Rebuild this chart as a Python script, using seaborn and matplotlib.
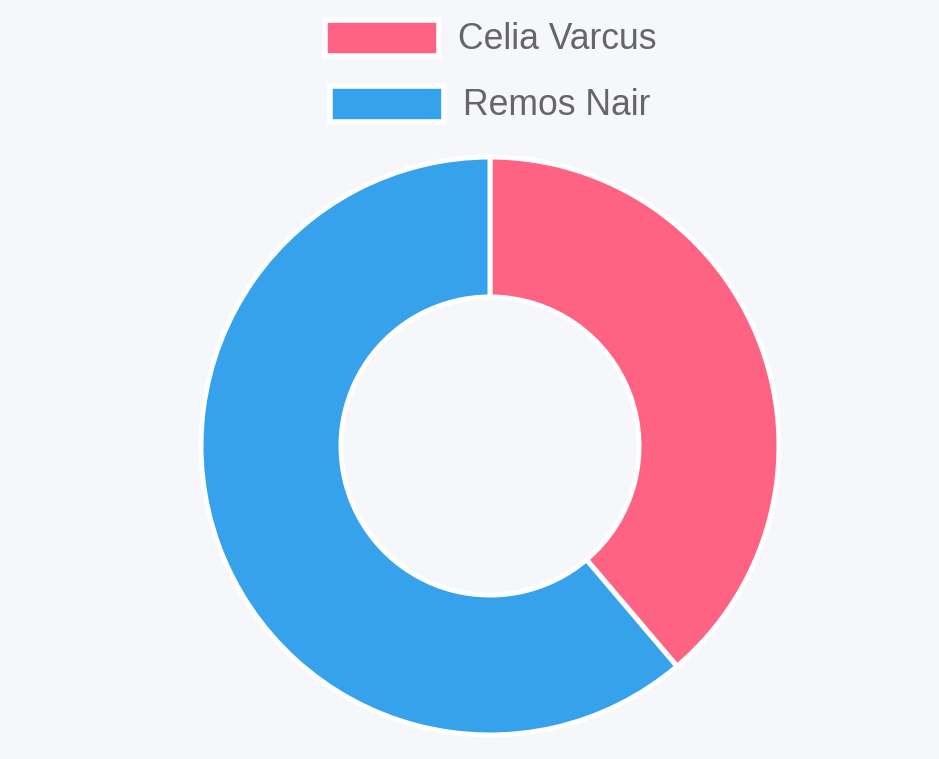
import matplotlib
matplotlib.use("Agg")
import matplotlib.pyplot as plt
import matplotlib.patches as mpatches
import seaborn as sns

# donut data
names = ["Celia Varcus", "Remos Nair"]
shares = [38.8, 61.2]
colors = ["#FF6384", "#36A2EB"]

bg = "#F5F7FB"
sns.set_theme(style="white", rc={"axes.facecolor": bg, "figure.facecolor": bg})
plt.rcParams["font.family"] = ["Liberation Sans", "DejaVu Sans"]

W, H = 939, 759
fig = plt.figure(figsize=(W / 100, H / 100), dpi=100)
ax = fig.add_axes([0, 0, 1, 1])

# ax spans the whole figure, 1 data unit = 1 pixel (y up)
ax.pie(shares, colors=colors, startangle=90, counterclock=False,
       center=(490, H - 446), radius=289, frame=True,
       wedgeprops={"width": 140, "edgecolor": "white", "linewidth": 3.6})
ax.set_xlim(0, W)
ax.set_ylim(0, H)
ax.set_aspect("equal")
ax.axis("off")

# legend, each row centred on its own like the chart.js one
renderer = fig.canvas.get_renderer()
box_w, box_h, gap = 120, 36, 16
row_y = [38, 104]
for name, col, y in zip(names, colors, row_y):
    txt = ax.text(0, H - y - 11, name, fontsize=25.6, color="#666666", va="baseline", ha="left")
    tw = txt.get_window_extent(renderer).width
    x0 = 489 - (box_w + gap + tw) / 2
    ax.add_patch(mpatches.Rectangle((x0 + 3, H - y - box_h / 2), box_w - 6, box_h,
                                    facecolor=col, edgecolor="white", linewidth=4.0))
    txt.set_x(x0 + box_w + gap)

fig.savefig("out.png", dpi=100, facecolor=bg)
